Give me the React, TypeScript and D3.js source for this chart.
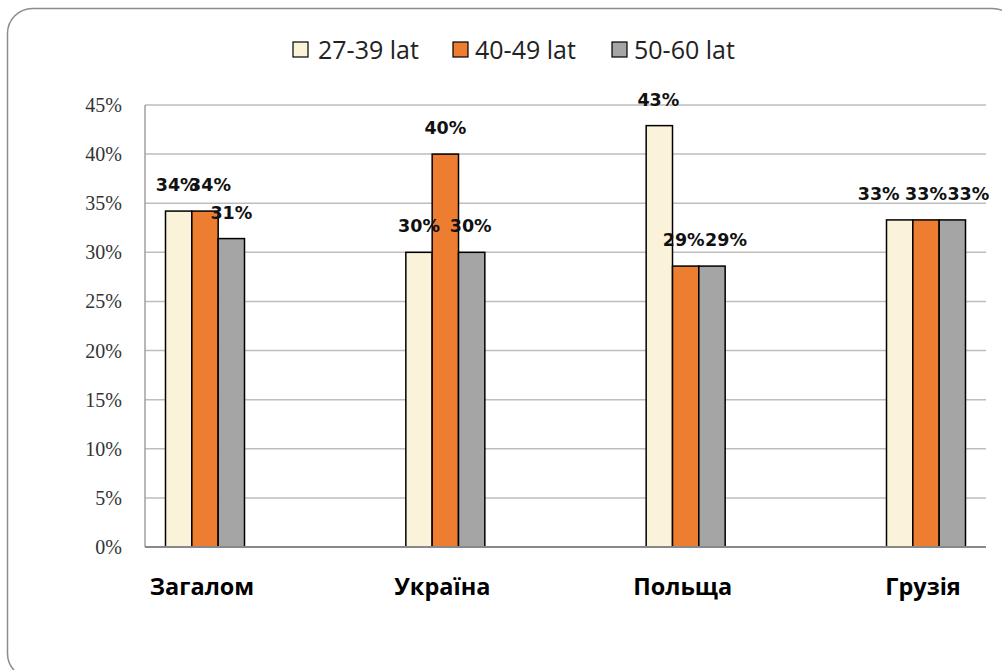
import * as d3 from "d3";
import React from "react";

const categories = ["Загалом", "Україна", "Польща", "Грузія"];
const seriesNames = ["27-39 lat", "40-49 lat", "50-60 lat"];
const young = [0.342, 0.3, 0.429, 0.333];
const middle = [0.342, 0.4, 0.286, 0.333];
const older = [0.314, 0.3, 0.286, 0.333];
const yTicks = [0, 0.05, 0.1, 0.15, 0.2, 0.25, 0.3, 0.35, 0.4, 0.45];

const colors = ["#FAF3DA", "#ED7D31", "#A5A5A5"];
const seriesValues = [young, middle, older];

// horizontal nudges Excel applied to overlapping data labels [series][category]
const labelNudge = [
  [-2, 0, -1, -21],
  [5, 0, -2, 0],
  [0, -1, 14, 16],
];

const W = 1002;
const H = 670;
const plot = { left: 145, right: 986, top: 105, bottom: 547 };

const App = () => {
  const y = d3.scaleLinear().domain([0, 0.45]).range([plot.bottom, plot.top]);
  const x = d3.scalePoint<string>().domain(categories).range([205, 926]);
  const sub = d3.scaleBand<string>().domain(seriesNames).range([-39.5, 39.5]);
  const pct = d3.format(".0%");

  // legend layout (square x, text x)
  const legendPos = [
    [293, 318],
    [453, 475],
    [612, 634],
  ];

  return (
    <svg
      width={W}
      height={H}
      style={{ position: "absolute", left: 0, top: 0, background: "#fff" }}
    >
      <rect
        x={7.5}
        y={8.5}
        width={1010}
        height={670}
        rx={25}
        fill="#fff"
        stroke="#8c8c8c"
        strokeWidth={1.5}
      />

      {/* gridlines */}
      {yTicks.slice(1).map((t) => (
        <line
          key={t}
          x1={plot.left}
          x2={plot.right}
          y1={y(t)}
          y2={y(t)}
          stroke="#bdbdbd"
          strokeWidth={1.5}
        />
      ))}
      <line
        x1={plot.left}
        x2={plot.left}
        y1={plot.top}
        y2={plot.bottom}
        stroke="#a0a0a0"
        strokeWidth={1.5}
      />

      {/* y tick labels */}
      {yTicks.map((t) => (
        <text
          key={t}
          x={122}
          y={y(t)}
          dy="0.35em"
          textAnchor="end"
          fontFamily="'Liberation Serif', 'DejaVu Serif', serif"
          fontSize={20}
          fill="#333"
        >
          {pct(t)}
        </text>
      ))}

      {/* bars */}
      {categories.map((c, i) => (
        <g key={c} transform={`translate(${x(c)},0)`}>
          {seriesNames.map((s, j) => {
            const v = seriesValues[j][i];
            return (
              <rect
                key={s}
                x={sub(s)}
                y={y(v)}
                width={sub.bandwidth()}
                height={plot.bottom - y(v)}
                fill={colors[j]}
                stroke="#000"
                strokeWidth={1.5}
              />
            );
          })}
        </g>
      ))}

      {/* data labels */}
      {categories.map((c, i) => (
        <g key={c + "-lbl"} transform={`translate(${x(c)},0)`}>
          {seriesNames.map((s, j) => {
            const v = seriesValues[j][i];
            return (
              <text
                key={s}
                x={(sub(s) || 0) + sub.bandwidth() / 2 + labelNudge[j][i]}
                y={y(v) - 20}
                textAnchor="middle"
                fontFamily="'DejaVu Sans', Verdana, sans-serif"
                fontWeight="bold"
                fontSize={17.5}
                fill="#111"
              >
                {pct(v)}
              </text>
            );
          })}
        </g>
      ))}

      {/* x axis */}
      <line
        x1={plot.left}
        x2={plot.right}
        y1={plot.bottom}
        y2={plot.bottom}
        stroke="#888"
        strokeWidth={2}
      />
      {categories.map((c) => (
        <text
          key={c}
          x={(x(c) || 0) - 3}
          y={595}
          textAnchor="middle"
          fontFamily="'Open Sans', 'Noto Sans', sans-serif"
          fontWeight="bold"
          fontSize={23.5}
          fill="#000"
        >
          {c}
        </text>
      ))}

      {/* legend */}
      {seriesNames.map((s, j) => (
        <g key={s}>
          <rect
            x={legendPos[j][0]}
            y={42}
            width={15}
            height={15}
            fill={colors[j]}
            stroke="#000"
            strokeWidth={1.2}
          />
          <text
            x={legendPos[j][1]}
            y={50}
            dy="0.35em"
            fontFamily="'Open Sans', 'Noto Sans', sans-serif"
            fontSize={25}
            fill="#222"
          >
            {s}
          </text>
        </g>
      ))}
    </svg>
  );
};

export default App;
